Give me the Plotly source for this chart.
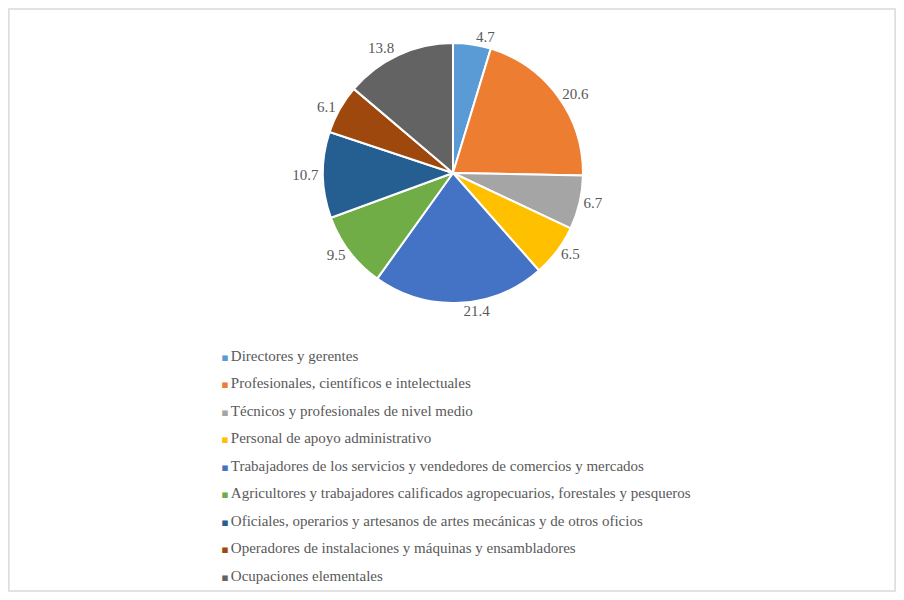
import plotly.graph_objects as go

CATEGORIES = [
    "Directores y gerentes",
    "Profesionales, científicos e intelectuales",
    "Técnicos y profesionales de nivel medio",
    "Personal de apoyo administrativo",
    "Trabajadores de los servicios y vendedores de comercios y mercados",
    "Agricultores y trabajadores calificados agropecuarios, forestales y pesqueros",
    "Oficiales, operarios y artesanos de artes mecánicas y de otros oficios",
    "Operadores de instalaciones y máquinas y ensambladores",
    "Ocupaciones elementales",
]
VALUES = [4.7, 20.6, 6.7, 6.5, 21.4, 9.5, 10.7, 6.1, 13.8]
COLORS = [
    "#5B9BD5", "#ED7D31", "#A5A5A5", "#FFC000", "#4472C4",
    "#70AD47", "#255E91", "#9E480E", "#636363",
]

FONT = "Liberation Serif, Times New Roman, serif"
TEXT_COLOR = "#595959"

# page body has an 8px margin, so keep the figure small enough not to overflow
W, H = 888, 584

fig = go.Figure()
fig.add_trace(
    go.Pie(
        labels=CATEGORIES,
        values=VALUES,
        text=[f"{v:.1f}" for v in VALUES],
        textinfo="text",
        textposition="outside",
        sort=False,
        direction="clockwise",
        rotation=0,
        marker=dict(colors=COLORS, line=dict(color="white", width=2)),
        outsidetextfont=dict(family=FONT, size=15, color=TEXT_COLOR),
        showlegend=False,
        domain=dict(x=[0.2011, 0.8011], y=[0.4949, 0.9401]),
        hoverinfo="label+value",
    )
)

# legend entries as scatter traces so item spacing can be set; the legend
# symbol itself is transparent and a small coloured square sits in the text,
# close to the label as in the original
for name, color in zip(CATEGORIES, COLORS):
    fig.add_trace(
        go.Scatter(
            x=[None], y=[None], mode="markers",
            name=(f'<span style="color:{color};font-family:DejaVu Sans;'
                  f'font-size:11px">▪\u2009</span>{name}'),
            legendgroup=name,
            marker=dict(symbol="square", size=7, color="rgba(0,0,0,0)"),
        )
    )

fig.update_layout(
    width=W,
    height=H,
    margin=dict(l=0, r=0, t=0, b=0),
    paper_bgcolor="white",
    plot_bgcolor="white",
    xaxis=dict(visible=False),
    yaxis=dict(visible=False),
    legend=dict(
        x=0.1950, y=0.4340, xanchor="left", yanchor="top",
        font=dict(family=FONT, size=15, color=TEXT_COLOR),
        tracegroupgap=5,
        itemwidth=30,
        bgcolor="rgba(0,0,0,0)",
    ),
    shapes=[dict(
        type="rect", xref="paper", yref="paper",
        x0=0.001, y0=0.0015, x1=0.999, y1=0.9985,
        line=dict(color="#D9D9D9", width=1.5),
    )],
)

fig.write_html("out.html")
